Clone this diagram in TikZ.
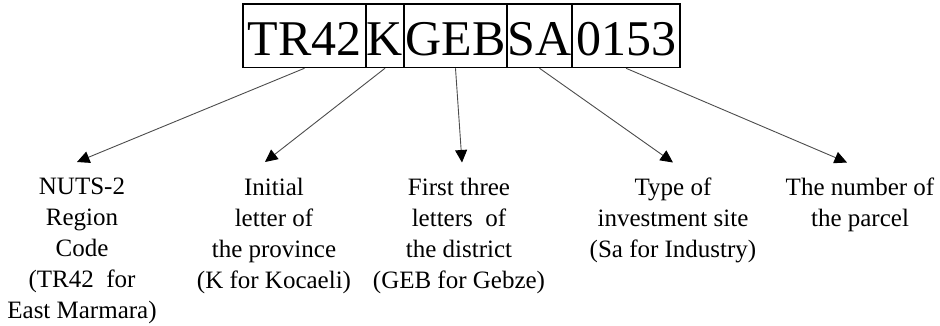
\documentclass[tikz,border=0pt]{standalone}
\usepackage{fontspec}
\setmainfont{Liberation Serif}
\usetikzlibrary{arrows.meta}
\begin{document}
\begin{tikzpicture}[x=1pt,y=-1pt,
  segbox/.style={draw=black, line width=1.3pt, inner xsep=0pt, inner ysep=0pt,
    text height=51pt, text depth=12.6pt, font=\fontsize{50}{60}\selectfont},
  caption/.style={align=center, inner sep=0pt, anchor=north,
    font=\fontsize{25}{31}\selectfont},
  pointer/.style={draw=black!70, line width=0.9pt,
    -{Triangle[length=12.5pt,width=12pt,fill=black,color=black]}}]
\useasboundingbox (0,0) rectangle (940,325);

% code segments
\node[segbox, minimum width=123pt] (b1) at (304.5,35.8) {TR42};
\node[segbox, minimum width=38pt]  (b2) at (385,35.8)   {K};
\node[segbox, minimum width=103pt] (b3) at (455.5,35.8) {GEB};
\node[segbox, minimum width=65pt]  (b4) at (539.5,35.8) {SA};
\node[segbox, minimum width=108pt] (b5) at (626,35.8)   {0153};

% explanations
\node[caption] (c1) at (82,178)  {NUTS-2\\Region\\Code\\(TR42\ \ for\\East Marmara)};
\node[caption] (c2) at (274,178) {Initial\\letter of\\the province\\(K for Kocaeli)};
\node[caption] (c3) at (459,178) {First three\\letters\ \ of\\the district\\(GEB for Gebze)};
\node[caption] (c4) at (673,178) {Type of\\investment site\\(Sa for Industry)};
\node[caption] (c5) at (860,178) {The number of\\the parcel};

% arrow tips
\coordinate (t1) at (77,162);
\coordinate (t2) at (265,162);
\coordinate (t3) at (462,162.5);
\coordinate (t4) at (673,162.5);
\coordinate (t5) at (847,162.5);

\draw[pointer] (b1.south) -- (t1);
\draw[pointer] (b2.south) -- (t2);
\draw[pointer] (b3.south) -- (t3);
\draw[pointer] (b4.south) -- (t4);
\draw[pointer] (b5.south) -- (t5);
\end{tikzpicture}
\end{document}
